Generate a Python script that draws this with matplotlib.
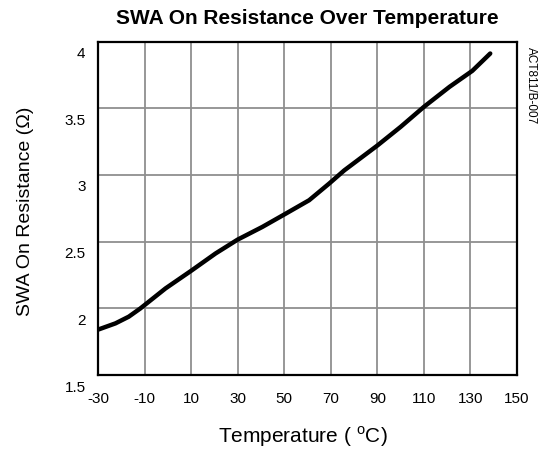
import matplotlib
matplotlib.use('Agg')
import matplotlib.pyplot as plt
import matplotlib.transforms as mtransforms

plt.rcParams['font.family'] = ['Liberation Sans', 'DejaVu Sans']
plt.rcParams['axes.unicode_minus'] = False

# Data
temperature = [-30, -22.5, -16.8, -11.8, -10, -1, 10, 20.5, 30, 40.6, 50.7,
               60.7, 69.3, 75.8, 90, 100, 110, 121, 130.8, 138.5]
resistance = [1.84, 1.887, 1.937, 1.999, 2.024, 2.149, 2.281, 2.411, 2.515,
              2.61, 2.71, 2.81, 2.935, 3.034, 3.22, 3.36, 3.51, 3.66, 3.78, 3.91]

x_ticks = [-30, -10, 10, 30, 50, 70, 90, 110, 130, 150]
y_ticks = [1.5, 2, 2.5, 3, 3.5, 4]
y_tick_labels = ['1.5', '2', '2.5', '3', '3.5', '4']

fig = plt.figure(figsize=(5.45, 4.54), dpi=100)
ax = fig.add_axes([98 / 545, 1 - 375 / 454, 419 / 545, 333.5 / 454])

# Grid
for x in x_ticks[1:-1]:
    ax.axvline(x, color='#8f8f8f', lw=1.3, zorder=1)
for y in y_ticks[1:-1]:
    ax.axhline(y, color='#8f8f8f', lw=1.3, zorder=1)

# Curve
ax.plot(temperature, resistance, color='black', lw=3.2, zorder=3,
        solid_capstyle='round')

ax.set_xlim(-30, 150)
ax.set_ylim(1.5, 4)
ax.set_xticks(x_ticks)
ax.set_yticks(y_ticks)
ax.set_yticklabels(y_tick_labels)
ax.tick_params(length=0, labelsize=11, colors='black')
ax.tick_params(axis='x', pad=12)
ax.tick_params(axis='y', pad=9)

# y labels sit a little below their gridlines in the original
offset = mtransforms.ScaledTranslation(0, -0.11, fig.dpi_scale_trans)
for lbl in ax.get_yticklabels():
    lbl.set_transform(lbl.get_transform() + offset)

for s in ax.spines.values():
    s.set_linewidth(1.6)
    s.set_color('black')
    s.set_zorder(4)

ax.set_xlabel('Temperature ( $^{\\mathregular{o}}$C)', fontsize=15, va='center')
ax.xaxis.set_label_coords(0.49, -0.186)
ax.set_ylabel('SWA On Resistance (\u03a9)', fontsize=14, va='center')
ax.yaxis.set_label_coords(-0.174, 0.49)

fig.text(307 / 545, 1 - 24.5 / 454, 'SWA On Resistance Over Temperature',
         ha='center', va='baseline', fontsize=15, fontweight='bold')

fig.text(531 / 545, 1 - 47 / 454, 'ACT811/B-007', rotation=-90,
         ha='center', va='top', fontsize=8.5)

fig.savefig('out.png', dpi=100, facecolor='white')
